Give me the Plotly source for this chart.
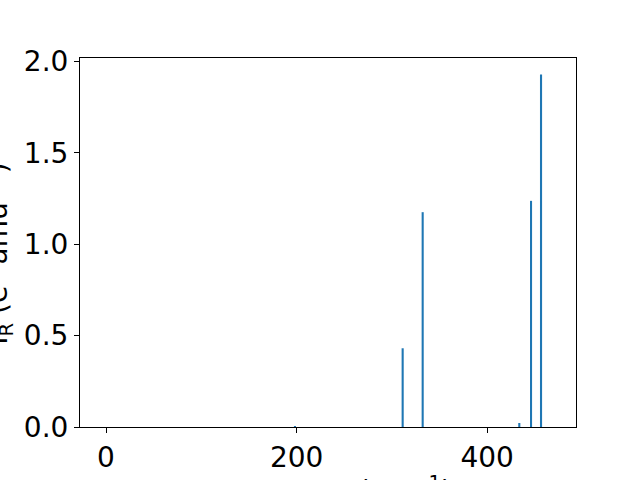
import plotly.graph_objects as go

frequencies = [198.3, 311.3, 332.3, 433.7, 446.0, 456.5]
intensities = [0.004, 0.431, 1.176, 0.022, 1.238, 1.930]

x_ticks = [0, 200, 400]
y_ticks = [0.0, 0.5, 1.0, 1.5, 2.0]
y_tick_text = ["0.0", "0.5", "1.0", "1.5", "2.0"]

fig = go.Figure()
fig.add_trace(go.Bar(x=frequencies, y=intensities, width=2.2,
                     marker=dict(color="#1f77b4", line=dict(width=0))))

font = dict(family="DejaVu Sans", size=28, color="black")
axis_common = dict(showgrid=False, zeroline=False, showline=True, linecolor="black",
                   linewidth=1, mirror=True, ticks="outside", ticklen=5,
                   tickcolor="black", tickwidth=1, tickfont=font, automargin=False)

fig.update_layout(
    width=640, height=480,
    margin=dict(l=80, r=64, t=58, b=53),
    paper_bgcolor="white", plot_bgcolor="white",
    showlegend=False,
    xaxis=dict(range=[-27.3, 493.2], tickvals=x_ticks, **axis_common),
    yaxis=dict(range=[0, 2.02], tickvals=y_ticks, ticktext=y_tick_text, **axis_common),
    annotations=[
        dict(text="Frequency (cm<sup>−1</sup>)", xref="paper", yref="paper",
             x=0.5, y=-0.113, xanchor="center", yanchor="top", showarrow=False, font=font),
        dict(text="I<sub>R</sub> (e<sup>2</sup> amu<sup>−1</sup>)", xref="paper", yref="paper",
             x=-0.165, y=0.47, xanchor="center", yanchor="middle", textangle=-90,
             showarrow=False, font=font),
    ],
)

fig.write_html("out.html", config={"displayModeBar": False},
               post_script="document.body.style.margin='0';document.body.style.overflow='hidden';")
